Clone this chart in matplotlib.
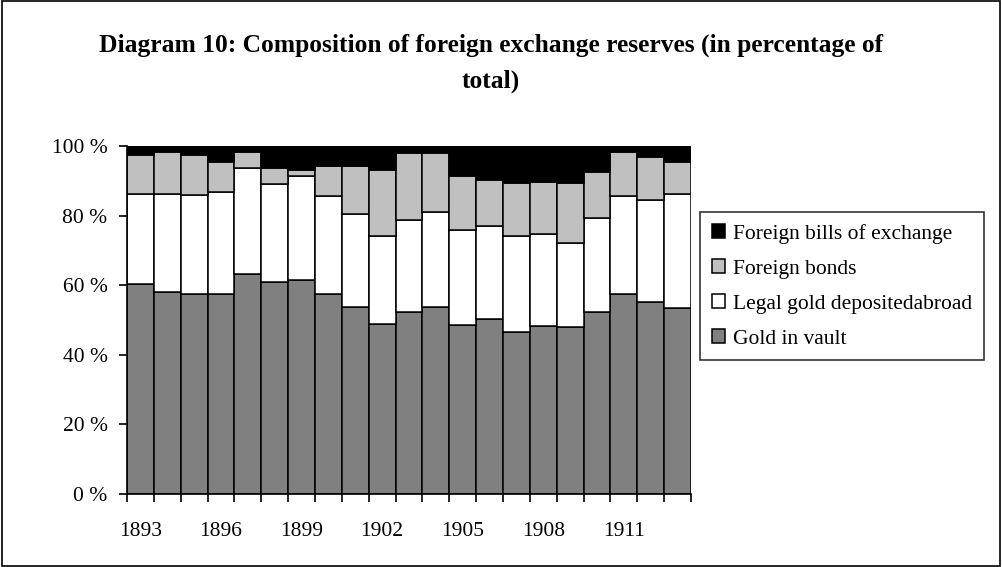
import matplotlib
matplotlib.use("Agg")
import matplotlib.pyplot as plt
from matplotlib.patches import Rectangle
import numpy as np

years = list(range(1893, 1914))

# shares in percent
gold_vault = [60.3, 58.0, 57.5, 57.5, 63.1, 60.8, 61.4, 57.5, 53.8, 48.9, 52.3,
              53.8, 48.7, 50.4, 46.5, 48.3, 47.9, 52.2, 57.4, 55.1, 53.4]
legal_gold = [25.8, 28.1, 28.5, 29.2, 30.5, 28.3, 29.9, 28.0, 26.6, 25.1, 26.4,
              27.1, 27.2, 26.5, 27.5, 26.3, 24.3, 27.0, 28.2, 29.3, 32.8]
foreign_bonds = [11.3, 12.3, 11.3, 8.8, 4.8, 4.7, 1.9, 8.8, 13.9, 19.2, 19.2,
                 17.0, 15.6, 13.4, 15.3, 15.2, 17.1, 13.4, 12.8, 12.3, 9.3]
foreign_bills = [2.6, 1.6, 2.7, 4.5, 1.6, 6.2, 6.8, 5.7, 5.7, 6.8, 2.1,
                 2.1, 8.5, 9.7, 10.7, 10.2, 10.7, 7.4, 1.6, 3.3, 4.5]

series = [
    ("Gold in vault", gold_vault, "#808080"),
    ("Legal gold depositedabroad", legal_gold, "#ffffff"),
    ("Foreign bonds", foreign_bonds, "#c0c0c0"),
    ("Foreign bills of exchange", foreign_bills, "#000000"),
]

plt.rcParams['font.family'] = ['Liberation Serif', 'DejaVu Serif']

fig = plt.figure(figsize=(10.02, 5.67), dpi=100)
ax = fig.add_axes([0.1267, 0.1287, 0.5629, 0.6138])

x = np.arange(len(years))
bottom = np.zeros(len(years))
handles = []
for name, vals, col in series:
    bars = ax.bar(x, vals, width=1.0, bottom=bottom, color=col,
                  edgecolor="black", linewidth=1.1, label=name)
    bottom += np.array(vals)
    handles.append(bars)

ax.set_xlim(-0.5, len(years) - 0.5)
ax.set_ylim(0, 100)

# year labels every third year, ticks between categories
ax.set_xticks(x[::3])
ax.set_xticklabels([str(y) for y in years[::3]], fontsize=15.5)
ax.set_xticks(np.arange(-0.5, len(years)), minor=True)
ax.tick_params(axis="x", which="major", length=0, pad=20)
ax.tick_params(axis="x", which="minor", length=6, width=1.2, direction="out")

ax.set_yticks(range(0, 101, 20))
ax.set_yticklabels([f"{v} %" for v in range(0, 101, 20)], fontsize=15.5)
ax.tick_params(axis="y", length=6, width=1.2, direction="out", pad=8)

for s in ["top", "right"]:
    ax.spines[s].set_visible(False)
for s in ["left", "bottom"]:
    ax.spines[s].set_linewidth(1.2)

leg = fig.legend(handles[::-1], [s[0] for s in series][::-1],
                 loc="upper left", bbox_to_anchor=(0.6986, 0.6261),
                 fontsize=15.5, frameon=True, fancybox=False, shadow=False,
                 edgecolor="black", handlelength=0.6, handleheight=0.6,
                 handletextpad=0.4, labelspacing=0.72, borderpad=0.55,
                 borderaxespad=0)
leg.get_frame().set_linewidth(1.2)

fig.text(0.49, 0.94, "Diagram 10: Composition of foreign exchange reserves (in percentage of\ntotal)",
         ha="center", va="top", fontsize=18.4, fontweight="bold", linespacing=1.7)

fig.patches.append(Rectangle((0.002, 0.002), 0.996, 0.996, transform=fig.transFigure,
                             fill=False, edgecolor="black", linewidth=1.2))

fig.savefig("out.png", dpi=100)
